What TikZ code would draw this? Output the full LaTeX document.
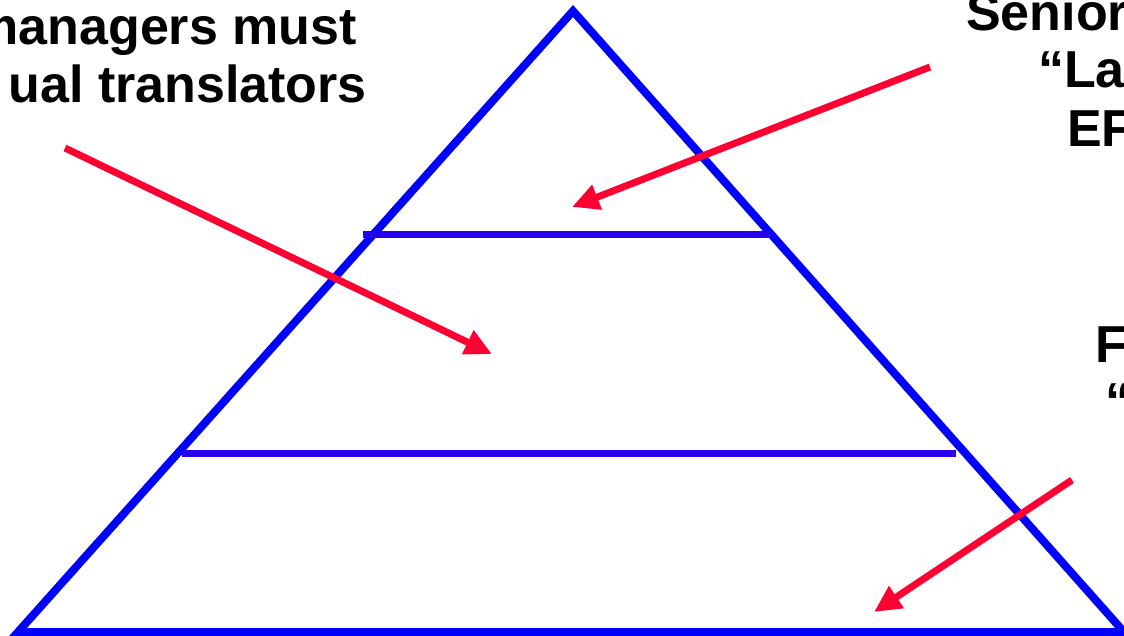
\documentclass[tikz,border=0pt]{standalone}
\usepackage{fontspec}
\setmainfont{Liberation Sans}
\usetikzlibrary{arrows.meta}
\definecolor{pyrblue}{RGB}{0,0,255}
\definecolor{bandblue}{RGB}{40,0,240}
\definecolor{ptrred}{RGB}{255,0,51}
\begin{document}
\begin{tikzpicture}[x=1pt,y=-1pt,
  tri/.style={draw=pyrblue,line width=8pt,line join=miter},
  band/.style={draw=bandblue,line width=7.5pt},
  pointer/.style={draw=ptrred,line width=7pt,-{Triangle[length=27pt,width=25pt]}},
  lbl/.style={inner sep=0pt,font=\fontsize{52}{57}\selectfont\bfseries}]
\useasboundingbox (0,0) rectangle (1124,636);
\clip (0,0) rectangle (1124,636);

% pyramid
\coordinate (apex) at (573,11);
\coordinate (bl) at (18,632);
\coordinate (br) at (1124,632);
\draw[tri] (apex) -- (bl) -- (br) -- cycle;
\draw[tri] (bl) -- (1140,632);

% levels
\coordinate (u1) at (363,234.5);
\coordinate (u2) at (771,234.5);
\coordinate (m1) at (182,453.5);
\coordinate (m2) at (956,453.5);
\draw[band] (u1) -- (u2);
\draw[band] (m1) -- (m2);

% labels
\node[lbl,anchor=base east] (mid1) at (357,45) {managers must};
\node[lbl,anchor=base east] (mid2) at (367,103) {ual translators};
\node[lbl,anchor=base west] (top1) at (966,31) {Senior};
\node[lbl,anchor=base west] (top2) at (1038,88) {“La};
\node[lbl,anchor=base west] (top3) at (1067,147) {EF};
\node[lbl,anchor=base west] (bot1) at (1095,362) {F};
\node[lbl,anchor=base west] (bot2) at (1105,419) {“};

% pointers
\coordinate (t1) at (930,67);
\coordinate (h1) at (572,207);
\coordinate (t2) at (65,148);
\coordinate (h2) at (492,354);
\coordinate (t3) at (1072,480);
\coordinate (h3) at (874,612);
\draw[pointer] (t1) -- (h1);
\draw[pointer] (t2) -- (h2);
\draw[pointer] (t3) -- (h3);
\end{tikzpicture}
\end{document}
